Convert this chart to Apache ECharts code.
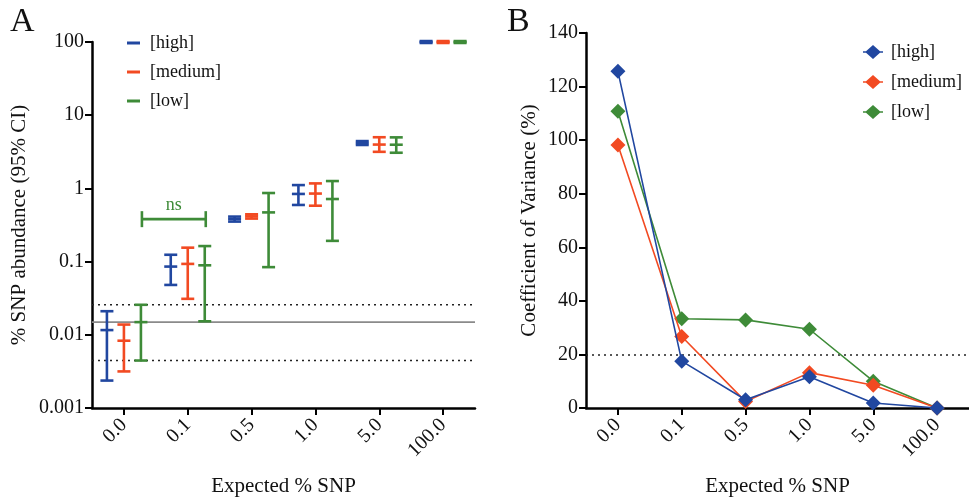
<!DOCTYPE html>
<html><head><meta charset="utf-8">
<script src="https://cdn.jsdelivr.net/npm/echarts@6/dist/echarts.min.js"></script>
<style>html,body{margin:0;padding:0;background:#fff}#c{width:969px;height:502px}</style>
</head><body><div id="c"></div>
<script>
var categories = ['0.0','0.1','0.5','1.0','5.0','100.0'];
var seriesNames = ['[high]','[medium]','[low]'];
var colors = ['#2147a0','#f24a22','#3e8b38'];
// Panel A: [lower CI, mean, upper CI] per category
var highCI   = [[0.00237,0.0116,0.021],[0.048,0.0855,0.124],[0.352,0.381,0.412],[0.594,0.84,1.11],[3.92,4.16,4.43],[97,100,103]];
var mediumCI = [[0.00316,0.0083,0.0138],[0.031,0.093,0.155],[0.387,0.415,0.443],[0.58,0.85,1.17],[3.16,3.97,5.0],[97,100,103]];
var lowCI    = [[0.00445,0.0149,0.0257],[0.0153,0.089,0.163],[0.084,0.47,0.865],[0.192,0.716,1.26],[3.07,3.95,4.98],[97,100,103]];
var refLine = 0.0149, refLow = 0.00445, refHigh = 0.0257;
var yTicksA = [0.001,0.01,0.1,1,10,100];
var nsLevel = 0.38;
// Panel B: coefficient of variance (%)
var highCV   = [125.7,17.5,3.1,11.7,1.85,0];
var mediumCV = [98.2,26.7,2.4,13.2,8.5,0];
var lowCV    = [110.8,33.3,32.9,29.4,10.0,0];
var cvThreshold = 20;

var FONT = '"Liberation Serif","Times New Roman",serif';
var chart = echarts.init(document.getElementById('c'));

function toRows(ci){ return ci.map(function(d,i){ return [i,d[0],d[1],d[2]]; }); }
function errRender(offset){
  return function(params, api){
    var c = api.value(0);
    var lo = api.coord([c, api.value(1)]), mid = api.coord([c, api.value(2)]), hi = api.coord([c, api.value(3)]);
    var x = lo[0] + offset, w = 6.5;
    var st = {stroke: api.visual('color'), lineWidth: 2.6};
    return {type:'group', children:[
      {type:'line', shape:{x1:x,y1:hi[1],x2:x,y2:lo[1]}, style:st},
      {type:'line', shape:{x1:x-w,y1:hi[1],x2:x+w,y2:hi[1]}, style:st},
      {type:'line', shape:{x1:x-w,y1:lo[1],x2:x+w,y2:lo[1]}, style:st},
      {type:'line', shape:{x1:x-w,y1:mid[1],x2:x+w,y2:mid[1]}, style:st}
    ]};
  };
}
var axisLineStyle = {lineStyle:{color:'#000', width:2.5}};
var tickStyle = {show:true, length:7, lineStyle:{color:'#000', width:2}};
var labelStyle = {color:'#111', fontFamily:FONT, fontSize:20};
var nameStyle = {color:'#111', fontFamily:FONT, fontSize:21};

var offsets = [-17,0,17];
var cis = [highCI, mediumCI, lowCI];
var seriesA = [];
// horizontal reference lines (value, dotted flag)
seriesA.push({type:'custom', name:'ref', xAxisIndex:0, yAxisIndex:0, silent:true, z:2,
  data:[[0, refLine, 0],[0, refLow, 1],[0, refHigh, 1]],
  encode:{x:0, y:1},
  renderItem:function(params, api){
    var cs = params.coordSys;
    var y = api.coord([0, api.value(1)])[1];
    var dotted = api.value(2) === 1;
    return {type:'line', shape:{x1:cs.x, y1:y, x2:cs.x+cs.width, y2:y},
      style: dotted ? {stroke:'#222', lineWidth:1.6, lineDash:[2,4]} : {stroke:'#8a8a8a', lineWidth:1.6}};
  }});
cis.forEach(function(ci, k){
  seriesA.push({type:'custom', name:seriesNames[k], xAxisIndex:0, yAxisIndex:0,
    itemStyle:{color:colors[k]}, renderItem: errRender(offsets[k]), data: toRows(ci), z: 5});
});
seriesA.push({type:'custom', name:'ns', xAxisIndex:0, yAxisIndex:0, silent:true, data:[[0,1,nsLevel]],
  renderItem:function(params, api){
    var p0 = api.coord([api.value(0), api.value(2)]), p1 = api.coord([api.value(1), api.value(2)]);
    var x0 = p0[0]+18, x1 = p1[0]+18, y = p0[1];
    var st = {stroke:colors[2], lineWidth:2.6};
    return {type:'group', children:[
      {type:'line', shape:{x1:x0,y1:y,x2:x1,y2:y}, style:st},
      {type:'line', shape:{x1:x0,y1:y-8,x2:x0,y2:y+8}, style:st},
      {type:'line', shape:{x1:x1,y1:y-8,x2:x1,y2:y+8}, style:st},
      {type:'text', style:{x:(x0+x1)/2, y:y-14, text:'ns', fill:colors[2], font:'18px '+FONT, textAlign:'center', textVerticalAlign:'middle'}}
    ]};
  }});

var cvs = [highCV, mediumCV, lowCV];
var seriesB = [];
for (var k=2;k>=0;k--){
  seriesB.push({type:'line', name:seriesNames[k], xAxisIndex:1, yAxisIndex:1, data:cvs[k],
    symbol:'diamond', symbolSize:15, showSymbol:true,
    itemStyle:{color:colors[k]}, lineStyle:{color:colors[k], width:1.6}, z: 5+(2-k)});
}
seriesB[0].markLine = {silent:true, symbol:'none', label:{show:false},
  data:[{yAxis:cvThreshold, lineStyle:{color:'#222', width:1.6, type:[2,4]}}]};

var lineDiamond = 'path://M0,6.2 L3,6.2 L10,0 L17,6.2 L20,6.2 L20,7.8 L17,7.8 L10,14 L3,7.8 L0,7.8 Z';

chart.setOption({
  animation:false,
  backgroundColor:'#fff',
  graphic:[
    {type:'text', left:10, top:5, style:{text:'A', font:'34px '+FONT, fill:'#111'}},
    {type:'text', left:507, top:5, style:{text:'B', font:'34px '+FONT, fill:'#111'}}
  ],
  legend:[
    {data:seriesNames, orient:'vertical', left:122, top:28, itemWidth:13, itemHeight:3, itemGap:9,
     icon:'rect', textStyle:{fontFamily:FONT, fontSize:18, color:'#111', lineHeight:20, padding:[0,0,0,5]}},
    {data:seriesNames.map(function(n){ return {name:n, icon:lineDiamond}; }),
     orient:'vertical', left:858, top:37, itemWidth:20, itemHeight:14, itemGap:10,
     textStyle:{fontFamily:FONT, fontSize:18, color:'#111', lineHeight:20, padding:[0,0,0,3]}}
  ],
  grid:[
    {left:92, top:42, width:383, height:370},
    {left:586, top:33, right:0, height:379}
  ],
  xAxis:[
    {type:'category', gridIndex:0, data:categories, boundaryGap:true,
     axisLine:axisLineStyle, axisTick:{show:true, alignWithLabel:true, length:7, lineStyle:{color:'#000', width:2}},
     axisLabel:Object.assign({rotate:45, margin:14}, labelStyle), splitLine:{show:false},
     name:'Expected % SNP', nameLocation:'middle', nameGap:68, nameTextStyle:nameStyle},
    {type:'category', gridIndex:1, data:categories, boundaryGap:true,
     axisLine:axisLineStyle, axisTick:{show:true, alignWithLabel:true, length:7, lineStyle:{color:'#000', width:2}},
     axisLabel:Object.assign({rotate:45, margin:14}, labelStyle), splitLine:{show:false},
     name:'Expected % SNP', nameLocation:'middle', nameGap:68, nameTextStyle:nameStyle}
  ],
  yAxis:[
    {type:'log', gridIndex:0, logBase:10, min:yTicksA[0], max:yTicksA[yTicksA.length-1],
     axisLine:{show:true, lineStyle:{color:'#000', width:2.5}}, axisTick:tickStyle, minorTick:{show:false},
     axisLabel:Object.assign({margin:8, formatter:function(v){
       var best = yTicksA.reduce(function(a,b){ return Math.abs(Math.log10(b)-Math.log10(v)) < Math.abs(Math.log10(a)-Math.log10(v)) ? b : a; });
       return String(best); }}, labelStyle),
     splitLine:{show:false},
     name:'% SNP abundance (95% CI)', nameLocation:'middle', nameGap:62, nameTextStyle:nameStyle},
    {type:'value', gridIndex:1, min:0, max:140, interval:20,
     axisLine:{show:true, lineStyle:{color:'#000', width:2.5}}, axisTick:tickStyle,
     axisLabel:Object.assign({margin:8}, labelStyle), splitLine:{show:false},
     name:'Coefficient of Variance (%)', nameLocation:'middle', nameGap:46, nameTextStyle:nameStyle}
  ],
  series: seriesA.concat(seriesB)
});
</script></body></html>
